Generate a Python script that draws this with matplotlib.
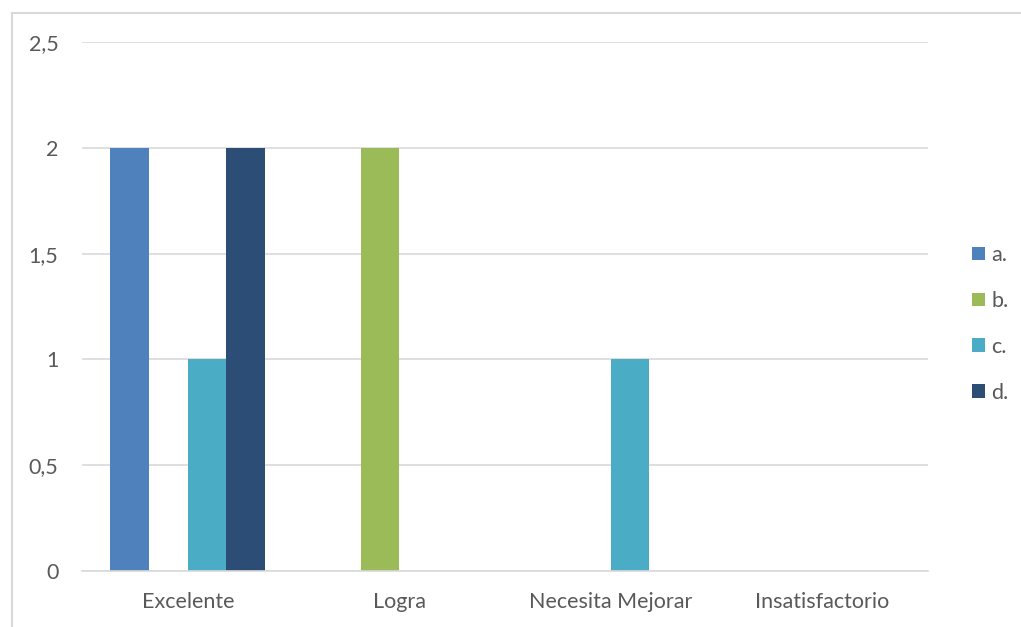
import matplotlib
matplotlib.use("Agg")
import matplotlib.pyplot as plt
from matplotlib.patches import Rectangle
import numpy as np

categories = ['Excelente', 'Logra', 'Necesita Mejorar', 'Insatisfactorio']
series = ['a.', 'b.', 'c.', 'd.']
values_a = [2, 0, 0, 0]
values_b = [0, 2, 0, 0]
values_c = [1, 0, 1, 0]
values_d = [2, 0, 0, 0]
yticks = [0, 0.5, 1, 1.5, 2, 2.5]
ytick_labels = ['0', '0,5', '1', '1,5', '2', '2,5']

colors = ['#4F81BD', '#9BBB59', '#4BACC6', '#2C4D75']
text_color = '#595959'
grid_color = '#D9D9D9'

plt.rcParams['font.family'] = ['Lato', 'DejaVu Sans']

fig = plt.figure(figsize=[10.21, 6.27], dpi=100)
ax = fig.add_axes([82/1021, 56/627, 846/1021, 529/627])

# chart area border (cut at the right and bottom edges)
fig.patches.append(Rectangle((12/1021, -0.1), 1.2, (627-13)/627 + 0.1,
                             transform=fig.transFigure, fill=False,
                             edgecolor=grid_color, linewidth=1.5))

x = np.arange(len(categories))
w = 0.183
allValues = [values_a, values_b, values_c, values_d]
for j, vals in enumerate(allValues):
    ax.bar(x + (j - 1.5) * w, vals, w, color=colors[j], label=series[j], zorder=3)

ax.set_xlim(-0.5, len(categories) - 0.5)
ax.set_ylim(0, 2.5)
ax.set_yticks(yticks)
ax.set_yticklabels(ytick_labels)
ax.set_xticks(x)
ax.set_xticklabels(categories)
ax.tick_params(axis='both', length=0, labelsize=15.5, colors=text_color)
ax.tick_params(axis='y', pad=17)
ax.tick_params(axis='x', pad=15)
ax.yaxis.grid(True, color=grid_color, linewidth=1.2, zorder=0)
for s in ['top', 'right', 'left']:
    ax.spines[s].set_visible(False)
ax.spines['bottom'].set_color(grid_color)
ax.spines['bottom'].set_linewidth(1.2)
ax.spines['bottom'].set_zorder(4)

leg = ax.legend(loc='center left', bbox_to_anchor=(961/1021, (627-324)/627),
                bbox_transform=fig.transFigure, frameon=False, fontsize=15.5,
                handlelength=0.6, handleheight=0.6, handletextpad=0.3,
                labelspacing=1.2, borderpad=0)
for t in leg.get_texts():
    t.set_color(text_color)

fig.savefig('out.png', dpi=100, facecolor='white')
